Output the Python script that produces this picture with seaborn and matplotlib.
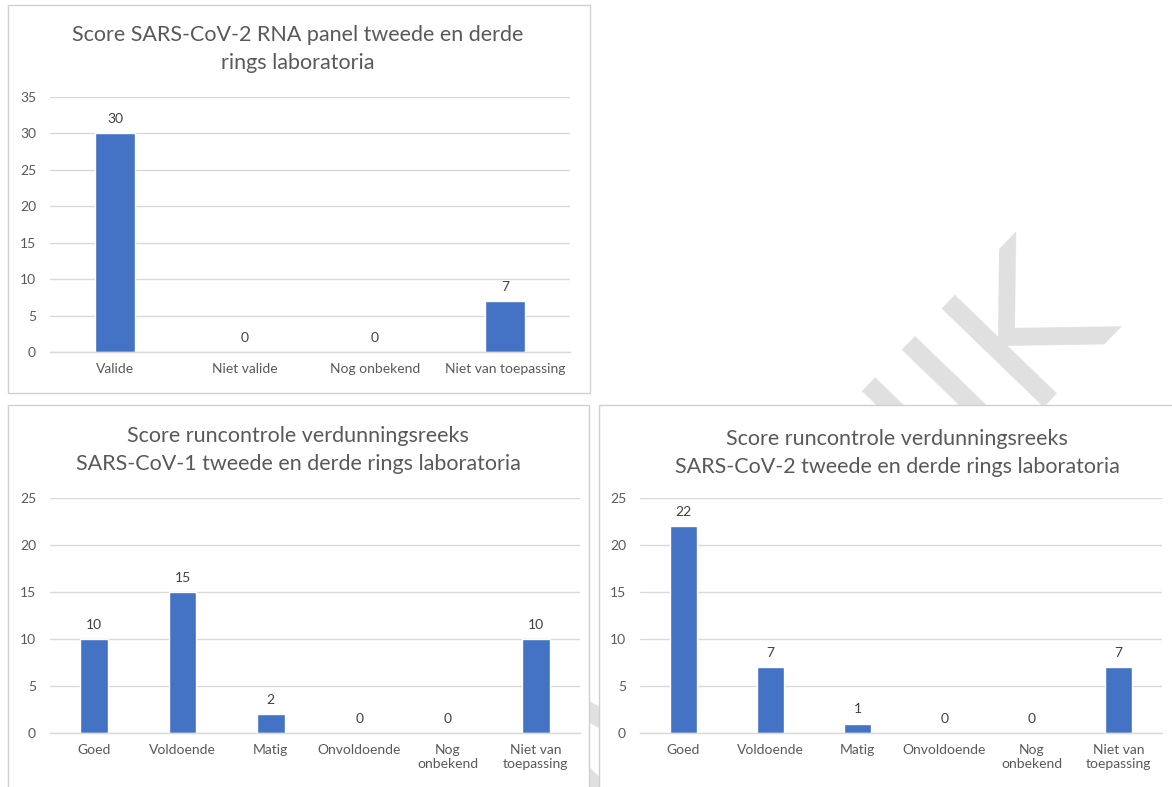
import matplotlib
matplotlib.use("Agg")
import matplotlib.pyplot as plt
from matplotlib.patches import Rectangle
import seaborn as sns

# ---- data ----
rna_categories = ["Valide", "Niet valide", "Nog onbekend", "Niet van toepassing"]
rna_counts = [30, 0, 0, 7]

run_categories = ["Goed", "Voldoende", "Matig", "Onvoldoende", "Nog\nonbekend", "Niet van\ntoepassing"]
cov1_counts = [10, 15, 2, 0, 0, 10]
cov2_counts = [22, 7, 1, 0, 0, 7]

title_rna = ["Score SARS-CoV-2 RNA panel tweede en derde", "rings laboratoria"]
title_cov1 = ["Score runcontrole verdunningsreeks", "SARS-CoV-1 tweede en derde rings laboratoria"]
title_cov2 = ["Score runcontrole verdunningsreeks", "SARS-CoV-2 tweede en derde rings laboratoria"]

BAR = "#4472C4"
GRID = "#d9d9d9"
TXT = "#595959"
W, H = 1172, 787

sns.set_theme(style="white")
plt.rcParams["font.family"] = ["Lato", "DejaVu Sans"]

fig = plt.figure(figsize=(W / 100, H / 100), dpi=100)
fig.patch.set_facecolor("white")

# background stamp
fig.text(1120 / W, 1 - 327 / H, "VERTROUWELIJK", rotation=46, rotation_mode="anchor",
         ha="right", va="baseline", fontsize=140, color="#e0e0e0",
         family="DejaVu Sans", zorder=1)


def box(x0, y0, x1, y1):
    r = Rectangle((x0 / W, 1 - y1 / H), (x1 - x0) / W, (y1 - y0) / H,
                  transform=fig.transFigure, facecolor="white",
                  edgecolor="#d0d0d0", lw=1.0, zorder=2)
    fig.add_artist(r)


def panel(x0, y0, x1, y1, cats, vals, ymax, title, tx, ty):
    ax = fig.add_axes([x0 / W, 1 - y1 / H, (x1 - x0) / W, (y1 - y0) / H])
    ax.set_zorder(3)
    ax.patch.set_alpha(0)
    sns.barplot(x=cats, y=vals, color=BAR, saturation=1, width=0.31, ax=ax)
    ax.set_ylim(0, ymax)
    ax.set_yticks(range(0, ymax + 1, 5))
    ax.yaxis.grid(True, color=GRID, lw=1)
    ax.set_axisbelow(True)
    for s in ["top", "right", "left"]:
        ax.spines[s].set_visible(False)
    ax.spines["bottom"].set_color(GRID)
    ax.spines["bottom"].set_linewidth(1)
    ax.tick_params(axis="both", length=0, colors=TXT, labelsize=10)
    ax.tick_params(axis="x", pad=8)
    ax.tick_params(axis="y", pad=10)
    for lab in ax.get_xticklabels():
        lab.set_linespacing(1.22)
    ax.set_xlabel("")
    ax.set_ylabel("")
    ax.bar_label(ax.containers[0], labels=[str(v) for v in vals],
                 padding=6, fontsize=10, color="#404040")
    for i, line in enumerate(title):
        fig.text(tx / W, 1 - (ty + 28 * i) / H, line, ha="center", va="center",
                 fontsize=15.5, color=TXT, zorder=4)
    return ax


box(8, 5, 590, 393)
box(8, 405, 589, 800)
box(599, 405, 1180, 800)

panel(50, 97, 570, 352, rna_categories, rna_counts, 35, title_rna, 298, 35)
panel(50, 498, 580, 733, run_categories, cov1_counts, 25, title_cov1, 298, 436)
panel(640, 498, 1162, 733, run_categories, cov2_counts, 25, title_cov2, 897, 439)

fig.savefig("out.png", dpi=100, facecolor="white")
